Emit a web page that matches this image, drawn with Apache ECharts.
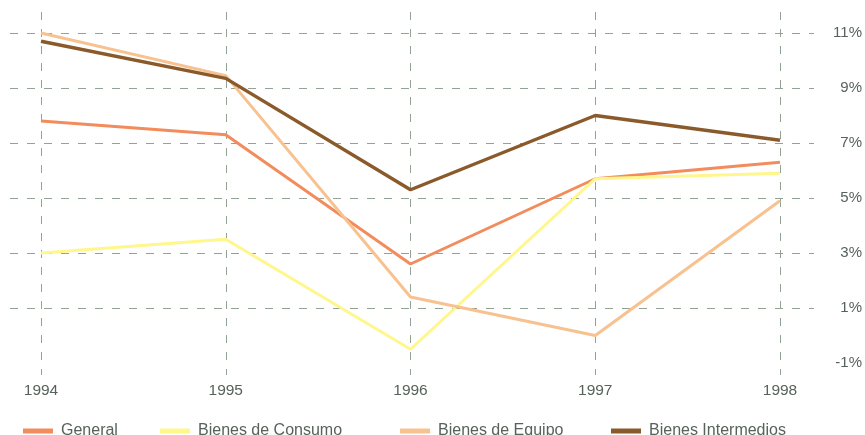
<!DOCTYPE html>
<html>
<head>
<meta charset="utf-8">
<script src="https://cdn.jsdelivr.net/npm/echarts@6/dist/echarts.min.js"></script>
<style>
    html, body { margin: 0; padding: 0; background: #fff; }
    #chart { width: 865px; height: 435px; }
</style>
</head>
<body>
<div id="chart"></div>
<script>
const years = ['1994', '1995', '1996', '1997', '1998'];
const general = [7.8, 7.3, 2.6, 5.7, 6.3];
const consumo = [3.0, 3.5, -0.5, 5.7, 5.9];
const equipo = [11.0, 9.45, 1.4, 0.0, 4.9];
const intermedios = [10.7, 9.35, 5.3, 8.0, 7.1];

const names = ['General', 'Bienes de Consumo', 'Bienes de Equipo', 'Bienes Intermedios'];
const colors = ['#f28c5c', '#fff68c', '#f8c290', '#8b5a2b'];
const values = [general, consumo, equipo, intermedios];

const textColor = '#56625a';
const gridColor = '#93a393';
const fontFamily = '"Liberation Sans", Arial, sans-serif';

(function () {
    const chart = echarts.init(document.getElementById('chart'));
    const legendLeft = [18, 155, 395, 606];

    const option = {
        animation: false,
        backgroundColor: '#fff',
        textStyle: { fontFamily: fontFamily },
        legend: names.map(function (name, i) {
            return {
                data: [name],
                left: legendLeft[i],
                top: 418,
                icon: 'rect',
                itemWidth: 30,
                itemHeight: 5,
                textStyle: { color: textColor, fontSize: 16, fontFamily: fontFamily, padding: [0, 0, 0, 3] }
            };
        }),
        grid: [
            // data grid
            { left: 41, right: 85, top: 33, bottom: 72 },
            // horizontal grid lines + right labels
            { left: 10, right: 50, top: 33, bottom: 72 },
            // vertical grid lines + year labels
            { left: 41, right: 85, top: 12, bottom: 60 }
        ],
        xAxis: [
            {
                gridIndex: 0, type: 'category', data: years, boundaryGap: false,
                axisLine: { show: false }, axisTick: { show: false }, axisLabel: { show: false },
                splitLine: { show: false }
            },
            {
                gridIndex: 1, type: 'value', min: 0, max: 1, show: false
            },
            {
                gridIndex: 2, type: 'category', data: years, boundaryGap: false,
                axisLine: { show: false }, axisTick: { show: false },
                axisLabel: { color: textColor, fontSize: 15.5, margin: 8 },
                splitLine: { show: true, lineStyle: { color: gridColor, width: 1, type: [8, 9] } }
            }
        ],
        yAxis: [
            {
                gridIndex: 0, type: 'value', min: -1, max: 11, interval: 2, show: false
            },
            {
                gridIndex: 1, type: 'value', min: -1, max: 11, interval: 2, position: 'right',
                axisLine: { show: false }, axisTick: { show: false },
                axisLabel: { color: textColor, fontSize: 15, align: 'right', margin: 48, formatter: '{value}%' },
                splitLine: {
                    show: true,
                    lineStyle: {
                        // the -1% line is not drawn in the original
                        color: ['transparent', gridColor, gridColor, gridColor, gridColor, gridColor, gridColor],
                        width: 1,
                        type: [8, 9]
                    }
                }
            },
            {
                gridIndex: 2, type: 'value', min: 0, max: 1, show: false
            }
        ],
        series: names.map(function (name, i) {
            return {
                name: name,
                type: 'line',
                xAxisIndex: 0,
                yAxisIndex: 0,
                data: values[i],
                symbol: 'none',
                color: colors[i],
                lineStyle: { color: colors[i], width: i === 3 ? 3.5 : 3 }
            };
        })
    };

    chart.setOption(option);
})();
</script>
</body>
</html>
